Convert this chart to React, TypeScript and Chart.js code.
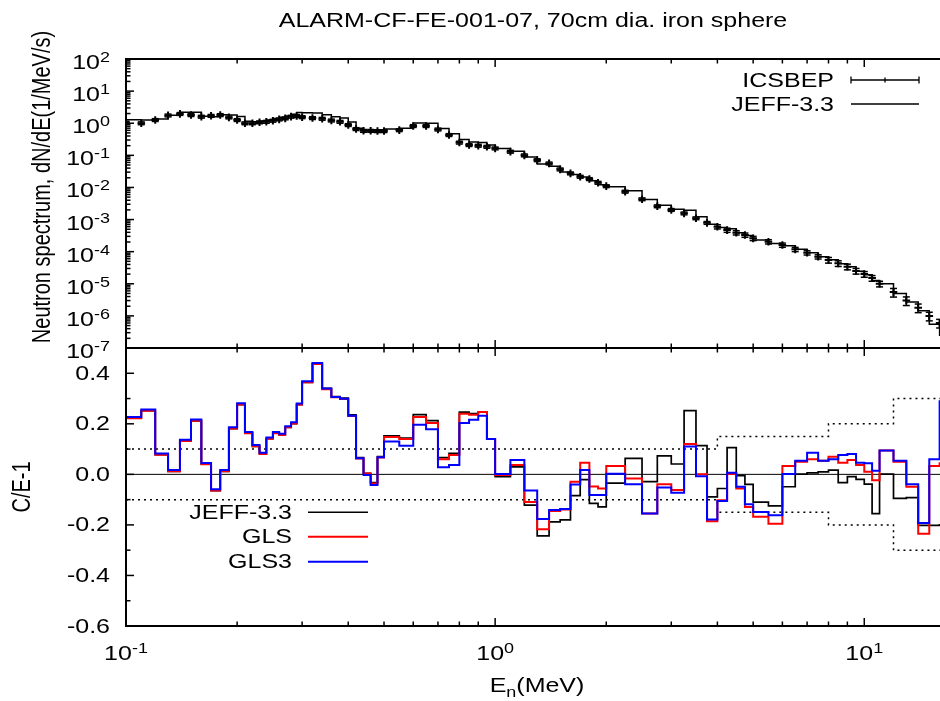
import React, { useEffect, useRef } from "react";
import { Chart, registerables } from "chart.js";

Chart.register(...registerables);

// ---------------- data ----------------
// lower bin edges (MeV)
const energyMeV = [
  0.10, 0.11, 0.12, 0.13, 0.14, 0.15, 0.16, 0.17, 0.18, 0.19,
  0.20, 0.21, 0.22, 0.23, 0.24, 0.25, 0.26, 0.27, 0.28, 0.29,
  0.30, 0.32, 0.34, 0.36, 0.38, 0.40, 0.42, 0.44, 0.46, 0.48,
  0.50, 0.55, 0.60, 0.65, 0.70, 0.75, 0.80, 0.85, 0.90, 0.95,
  1.0, 1.1, 1.2, 1.3, 1.4, 1.5, 1.6, 1.7, 1.8, 1.9,
  2.0, 2.25, 2.5, 2.75, 3.0, 3.25, 3.5, 3.75, 4.0, 4.25, 4.5, 4.75,
  5.0, 5.5, 6.0, 6.5, 7.0, 7.5, 8.0, 8.5, 9.0, 9.5, 10, 10.5,
  11, 12, 13, 14, 15, 16,
];
const lastUpperEdgeMeV = 17;

// measured spectrum (ICSBEP), 1/MeV/s
const icsbepSpectrum = [
  1.05, 1.0, 1.26, 1.75, 1.95, 1.8, 1.6, 1.7, 1.8, 1.52,
  1.26, 1.0, 1.0, 1.07, 1.11, 1.2, 1.32, 1.42, 1.6, 1.68,
  1.55, 1.45, 1.38, 1.22, 1.11, 0.88, 0.66, 0.58, 0.58, 0.57,
  0.57, 0.61, 0.82, 0.82, 0.64, 0.43, 0.25, 0.21, 0.20, 0.185,
  0.165, 0.13, 0.10, 0.071, 0.056, 0.0366, 0.0275, 0.0216, 0.0183, 0.014,
  0.011, 0.0074, 0.0043, 0.0026, 0.0020, 0.00156, 0.0011, 0.00079, 0.0006, 0.00047, 0.00039, 0.00033,
  0.00026, 0.000204, 0.000161, 0.000118, 9.25e-5, 6.95e-5, 5.5e-5, 4.33e-5, 3.4e-5, 2.5e-5, 2.0e-5, 1.5e-5,
  1.0e-5, 5.5e-6, 3.0e-6, 1.8e-6, 1.0e-6, 6.0e-7,
];

// calculated spectrum (JEFF-3.3), 1/MeV/s
const jeffSpectrum = [
  1.28, 1.25, 1.36, 1.77, 2.21, 2.18, 1.66, 1.59, 1.82, 1.80,
  1.61, 1.16, 1.11, 1.16, 1.27, 1.40, 1.53, 1.68, 1.92, 2.14,
  2.11, 2.08, 1.85, 1.60, 1.45, 1.09, 0.70, 0.58, 0.56, 0.61,
  0.66, 0.70, 1.01, 0.99, 0.68, 0.47, 0.31, 0.26, 0.25, 0.21,
  0.164, 0.134, 0.088, 0.054, 0.0455, 0.030, 0.0252, 0.0211, 0.0162, 0.0122,
  0.0106, 0.0079, 0.00418, 0.00279, 0.00208, 0.00195, 0.00123, 0.00072, 0.000566, 0.00052, 0.000388, 0.000317,
  0.000231, 0.000179, 0.000153, 0.000118, 9.3e-5, 7.0e-5, 5.6e-5, 4.19e-5, 3.37e-5, 2.45e-5, 1.92e-5, 1.27e-5,
  1.0e-5, 4.98e-6, 2.72e-6, 1.44e-6, 5.5e-7, 2.5e-7,
];

// C/E - 1
const ceJeff33 = [
  0.222, 0.252, 0.078, 0.012, 0.132, 0.212, 0.04, -0.064, 0.012, 0.181,
  0.276, 0.163, 0.111, 0.081, 0.141, 0.163, 0.156, 0.186, 0.201, 0.276,
  0.364, 0.437, 0.34, 0.308, 0.302, 0.235, 0.066, 0.004, -0.033, 0.07,
  0.152, 0.143, 0.236, 0.213, 0.066, 0.083, 0.246, 0.24, 0.246, 0.14,
  -0.009, 0.03, -0.122, -0.243, -0.188, -0.18, -0.084, -0.021, -0.115, -0.129,
  -0.035, 0.063, -0.029, 0.073, 0.041, 0.252, 0.114, -0.089, -0.056, 0.106, -0.005, -0.04,
  -0.11, -0.125, -0.049, 0.001, 0.006, 0.01, 0.017, -0.033, -0.009, -0.02, -0.039, -0.155,
  0.001, -0.095, -0.092, -0.202, -0.202, -0.2,
];
const ceGls = [
  0.222, 0.252, 0.078, 0.012, 0.132, 0.212, 0.04, -0.064, 0.012, 0.181,
  0.276, 0.163, 0.111, 0.081, 0.141, 0.163, 0.156, 0.186, 0.201, 0.276,
  0.364, 0.437, 0.337, 0.305, 0.298, 0.231, 0.063, 0.003, -0.036, 0.067,
  0.148, 0.14, 0.227, 0.203, 0.06, 0.077, 0.24, 0.236, 0.247, 0.14,
  -0.003, 0.037, -0.109, -0.217, -0.145, -0.139, -0.029, 0.046, -0.048, -0.056,
  0.033, -0.016, -0.155, -0.039, -0.062, 0.12, 0.0, -0.186, -0.102, 0.001, -0.056, -0.129,
  -0.168, -0.195, 0.033, 0.05, 0.06, 0.054, 0.07, 0.046, 0.057, 0.037, 0.01, -0.023,
  0.094, 0.05, -0.049, -0.235, 0.033, 0.044,
];
const ceGls3 = [
  0.227, 0.257, 0.083, 0.017, 0.137, 0.217, 0.045, -0.059, 0.017, 0.186,
  0.281, 0.168, 0.116, 0.086, 0.146, 0.168, 0.161, 0.19, 0.206, 0.28,
  0.368, 0.441, 0.34, 0.306, 0.299, 0.232, 0.064, -0.003, -0.042, 0.068,
  0.13, 0.113, 0.196, 0.179, 0.028, 0.037, 0.203, 0.216, 0.232, 0.14,
  0.001, 0.057, -0.064, -0.177, -0.141, -0.137, -0.04, 0.017, -0.082, -0.082,
  0.002, -0.039, -0.155, -0.052, -0.073, 0.11, -0.007, -0.179, -0.105, 0.006, -0.049, -0.118,
  -0.149, -0.162, 0.001, 0.054, 0.086, 0.054, 0.06, 0.077, 0.081, 0.046, 0.044, 0.014,
  0.094, 0.054, -0.039, -0.192, 0.06, 0.289,
];

// experimental relative uncertainty band
const uncEdgesMeV = [0.1, 4, 8, 12];
const uncRel = [0.1, 0.15, 0.2, 0.3];

// tick labels
const yTopExponents = ["2", "1", "0", "-1", "-2", "-3", "-4", "-5", "-6", "-7"];
const yBotLabels = ["0.4", "0.2", "0.0", "-0.2", "-0.4", "-0.6"];
const xLabelExponents = ["-1", "0", "1"];

const X_MIN = 0.1;
const X_MAX = 17.07;

// ---------------- drawing helpers ----------------
const FONT = '"Liberation Sans", Arial, Helvetica, sans-serif';
const SX = 1.25;
const BASE = 20;
const EXP = 14.4;

function measure(ctx: CanvasRenderingContext2D, s: string, size: number) {
  ctx.save();
  ctx.font = `${size}px ${FONT}`;
  const w = ctx.measureText(s).width * SX;
  ctx.restore();
  return w;
}

function drawText(
  ctx: CanvasRenderingContext2D,
  s: string,
  x: number,
  y: number,
  size: number,
  align: "left" | "right" | "center" = "left",
  baseline: CanvasTextBaseline = "alphabetic"
) {
  const w = measure(ctx, s, size);
  const x0 = align === "left" ? x : align === "right" ? x - w : x - w / 2;
  ctx.save();
  ctx.font = `${size}px ${FONT}`;
  ctx.fillStyle = "#000";
  ctx.textAlign = "left";
  ctx.textBaseline = baseline;
  ctx.translate(x0, y);
  ctx.scale(SX, 1);
  ctx.fillText(s, 0, 0);
  ctx.restore();
  return w;
}

function drawPow(ctx: CanvasRenderingContext2D, exp: string, x: number, baseY: number, align: "right" | "center") {
  const w10 = measure(ctx, "10", BASE);
  const we = measure(ctx, exp, EXP);
  const total = w10 + we;
  const x0 = align === "right" ? x - total : x - total / 2;
  drawText(ctx, "10", x0, baseY, BASE);
  drawText(ctx, exp, x0 + w10, baseY - 7, EXP);
}

function drawVText(ctx: CanvasRenderingContext2D, s: string, cx: number, cy: number, size: number) {
  ctx.save();
  ctx.font = `${size}px ${FONT}`;
  ctx.fillStyle = "#000";
  ctx.translate(cx, cy);
  ctx.scale(SX, 1);
  ctx.rotate(-Math.PI / 2);
  ctx.textAlign = "center";
  ctx.textBaseline = "middle";
  ctx.fillText(s, 0, 0);
  ctx.restore();
}

function seg(ctx: CanvasRenderingContext2D, x1: number, y1: number, x2: number, y2: number) {
  ctx.beginPath();
  ctx.moveTo(x1, y1);
  ctx.lineTo(x2, y2);
  ctx.stroke();
}

function relUnc(e: number) {
  let u = uncRel[0];
  for (let i = 0; i < uncEdgesMeV.length; i++) if (e >= uncEdgesMeV[i]) u = uncRel[i];
  return u;
}

function stepData(vals: number[]) {
  const pts = energyMeV.map((e, i) => ({ x: e, y: vals[i] }));
  pts.push({ x: lastUpperEdgeMeV, y: vals[vals.length - 1] });
  return pts;
}

function bandData(sign: number) {
  const pts = uncEdgesMeV.map((e, i) => ({ x: e, y: sign * uncRel[i] }));
  pts.push({ x: X_MAX, y: sign * uncRel[uncRel.length - 1] });
  return pts;
}

const gnuplotPlugin = {
  id: "gnuplotDecor",
  afterDatasetsDraw(chart: any) {
    const ctx: CanvasRenderingContext2D = chart.ctx;
    const xs = chart.scales.x;
    const ys = chart.scales.yTop;
    ctx.save();
    ctx.beginPath();
    ctx.rect(xs.left, ys.top, xs.right - xs.left, ys.bottom - ys.top);
    ctx.clip();
    ctx.strokeStyle = "#000";
    ctx.lineWidth = 1.5;
    energyMeV.forEach((e, i) => {
      const v = icsbepSpectrum[i];
      const u = relUnc(e);
      const px = xs.getPixelForValue(e);
      const hi = ys.getPixelForValue(v * (1 + u));
      const lo = ys.getPixelForValue(v * (1 - u));
      seg(ctx, px, hi, px, lo);
      seg(ctx, px - 3.5, hi, px + 3.5, hi);
      seg(ctx, px - 3.5, lo, px + 3.5, lo);
    });
    ctx.restore();
  },
  afterDraw(chart: any) {
    const ctx: CanvasRenderingContext2D = chart.ctx;
    const xs = chart.scales.x;
    const yt = chart.scales.yTop;
    const yb = chart.scales.yBot;
    const L = xs.left;
    const R = xs.right;
    ctx.save();
    ctx.strokeStyle = "#000";
    ctx.lineCap = "butt";

    // frames
    ctx.lineWidth = 2;
    ctx.strokeRect(L, yt.top, R - L, yt.bottom - yt.top);
    ctx.strokeRect(L, yb.top, R - L, yb.bottom - yb.top);

    // x ticks (both panels, top and bottom edges, inward)
    ctx.lineWidth = 1.5;
    const panels = [
      [yt.top, yt.bottom],
      [yb.top, yb.bottom],
    ];
    for (let d = -1; d <= 1; d++) {
      for (let m = 1; m <= 9; m++) {
        const v = m * Math.pow(10, d);
        if (v < X_MIN - 1e-9 || v > X_MAX) continue;
        const px = xs.getPixelForValue(v);
        const len = m === 1 ? 8 : 4.5;
        for (const [t, b] of panels) {
          seg(ctx, px, t, px, t + len);
          seg(ctx, px, b, px, b - len);
        }
      }
    }

    // top y ticks (log)
    for (let k = -7; k <= 2; k++) {
      for (let m = 1; m <= 9; m++) {
        const v = m * Math.pow(10, k);
        if (v > 100.0001) continue;
        const py = yt.getPixelForValue(v);
        const len = m === 1 ? 8 : 4.5;
        seg(ctx, L, py, L + len, py);
      }
    }
    // bottom y ticks
    for (let i = -6; i <= 5; i++) {
      const v = i / 10;
      const py = yb.getPixelForValue(v);
      const len = i % 2 === 0 ? 8 : 4.5;
      seg(ctx, L, py, L + len, py);
    }

    // y tick labels
    yTopExponents.forEach((ex) => {
      const py = yt.getPixelForValue(Math.pow(10, Number(ex)));
      drawPow(ctx, ex, 110, py + 10, "right");
    });
    yBotLabels.forEach((s) => {
      const py = yb.getPixelForValue(Number(s));
      drawText(ctx, s, 110, py + 1, BASE, "right", "middle");
    });
    // x tick labels
    xLabelExponents.forEach((ex) => {
      const px = xs.getPixelForValue(Math.pow(10, Number(ex)));
      drawPow(ctx, ex, px, 660, "center");
    });

    // titles
    drawText(ctx, "ALARM-CF-FE-001-07, 70cm dia. iron sphere", 533, 27, BASE, "center");
    drawVText(ctx, "Neutron spectrum, dN/dE(1/MeV/s)", 43, 187, BASE);
    drawVText(ctx, "C/E-1", 23, 487, BASE);

    // x-axis title E_n(MeV)
    const wE = measure(ctx, "E", BASE);
    const wn = measure(ctx, "n", EXP);
    const wM = measure(ctx, "(MeV)", BASE);
    const tot = wE + wn + wM;
    const tx = 537 - tot / 2;
    drawText(ctx, "E", tx, 692, BASE);
    drawText(ctx, "n", tx + wE, 697, EXP);
    drawText(ctx, "(MeV)", tx + wE + wn, 692, BASE);

    // top legend
    ctx.strokeStyle = "#000";
    drawText(ctx, "ICSBEP", 834, 81, BASE, "right", "middle");
    ctx.lineWidth = 1.3;
    seg(ctx, 851, 80, 919, 80);
    seg(ctx, 851, 76.5, 851, 83.5);
    seg(ctx, 919, 76.5, 919, 83.5);
    seg(ctx, 885, 77.5, 885, 82.5);
    drawText(ctx, "JEFF-3.3", 834, 105, BASE, "right", "middle");
    ctx.lineWidth = 1.5;
    seg(ctx, 851, 104, 919, 104);

    // bottom legend
    const leg = [
      ["JEFF-3.3", "#000000", 512.3, 1.6],
      ["GLS", "#ff0000", 536.7, 2],
      ["GLS3", "#0000ff", 561.7, 2],
    ] as [string, string, number, number][];
    leg.forEach(([label, col, y, lw]) => {
      drawText(ctx, label, 292, y + 1, BASE, "right", "middle");
      ctx.strokeStyle = col;
      ctx.lineWidth = lw;
      seg(ctx, 308, y, 368, y);
    });
    ctx.restore();
  },
};

export default function App() {
  const ref = useRef<HTMLCanvasElement | null>(null);
  useEffect(() => {
    if (!ref.current) return;
    const chart = new Chart(ref.current, {
      type: "line",
      data: {
        datasets: [
          {
            label: "ICSBEP",
            data: energyMeV.map((e, i) => ({ x: e, y: icsbepSpectrum[i] })),
            yAxisID: "yTop",
            showLine: false,
            pointStyle: "cross",
            pointRadius: 3.8,
            pointBorderWidth: 2,
            borderColor: "#000",
            backgroundColor: "#000",
            order: 1,
          },
          {
            label: "JEFF-3.3 spectrum",
            data: stepData(jeffSpectrum),
            yAxisID: "yTop",
            stepped: true,
            borderColor: "#000",
            borderWidth: 1.5,
            pointRadius: 0,
            order: 2,
          },
          {
            label: "zero",
            data: [
              { x: X_MIN, y: 0 },
              { x: X_MAX, y: 0 },
            ],
            yAxisID: "yBot",
            borderColor: "#000",
            borderWidth: 1,
            pointRadius: 0,
            order: 10,
          },
          {
            label: "unc+",
            data: bandData(1),
            yAxisID: "yBot",
            stepped: true,
            borderColor: "#000",
            borderWidth: 1.5,
            borderDash: [2, 4],
            pointRadius: 0,
            order: 9,
          },
          {
            label: "unc-",
            data: bandData(-1),
            yAxisID: "yBot",
            stepped: true,
            borderColor: "#000",
            borderWidth: 1.5,
            borderDash: [2, 4],
            pointRadius: 0,
            order: 9,
          },
          {
            label: "JEFF-3.3",
            data: stepData(ceJeff33),
            yAxisID: "yBot",
            stepped: true,
            borderColor: "#000000",
            borderWidth: 1.7,
            pointRadius: 0,
            order: 5,
          },
          {
            label: "GLS",
            data: stepData(ceGls),
            yAxisID: "yBot",
            stepped: true,
            borderColor: "#ff0000",
            borderWidth: 2,
            pointRadius: 0,
            order: 4,
          },
          {
            label: "GLS3",
            data: stepData(ceGls3),
            yAxisID: "yBot",
            stepped: true,
            borderColor: "#0000ff",
            borderWidth: 2,
            pointRadius: 0,
            order: 3,
          },
        ],
      },
      options: {
        animation: false,
        responsive: false,
        devicePixelRatio: 1,
        layout: { padding: { left: 126, right: 10, top: 59, bottom: 75 } },
        plugins: {
          legend: { display: false },
          tooltip: { enabled: false },
          title: { display: false },
        },
        scales: {
          x: {
            type: "logarithmic",
            position: "bottom",
            min: X_MIN,
            max: X_MAX,
            ticks: { display: false },
            grid: { display: false, drawTicks: false },
            border: { display: false },
          },
          yBot: {
            type: "linear",
            position: "left",
            stack: "panels",
            stackWeight: 278,
            min: -0.6,
            max: 0.5,
            ticks: { display: false },
            grid: { display: false, drawTicks: false },
            border: { display: false },
          },
          yTop: {
            type: "logarithmic",
            position: "left",
            stack: "panels",
            stackWeight: 289,
            min: 1e-7,
            max: 100,
            ticks: { display: false },
            grid: { display: false, drawTicks: false },
            border: { display: false },
          },
        },
      } as any,
      plugins: [gnuplotPlugin],
    });
    return () => chart.destroy();
  }, []);

  return (
    <div
      style={{
        position: "fixed",
        left: 0,
        top: 0,
        width: 940,
        height: 701,
        overflow: "hidden",
        background: "#fff",
      }}
    >
      <canvas ref={ref} width={960} height={701} style={{ display: "block" }} />
    </div>
  );
}
